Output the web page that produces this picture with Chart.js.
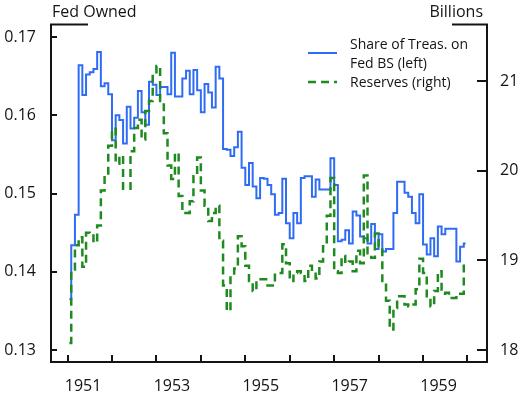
<!DOCTYPE html>
<html lang="en">
<head>
    <meta charset="UTF-8">
    <title>Fed Treasury Share and Reserves, 1951-1959</title>
    <script src="https://cdn.jsdelivr.net/npm/chart.js@4.4.0/dist/chart.umd.min.js"></script>
    <style>
        html, body {
            margin: 0;
            padding: 0;
            background: #ffffff;
        }
        #wrap {
            width: 531px;
            height: 398px;
        }
    </style>
</head>
<body>

<div id="wrap">
    <canvas id="fedChart" width="531" height="398"></canvas>
</div>

<script>
    // Monthly observations, Jan 1951 - Dec 1959
    const startYear = 1951;

    // Share of Treasuries held on the Fed balance sheet (left axis)
    const treasShare = [
        0.1365, 0.1434, 0.1473, 0.1664, 0.1626, 0.1652, 0.1655, 0.1659, 0.1681, 0.1637,
        0.1641, 0.1627, 0.1568, 0.1600, 0.1594, 0.1564, 0.1611, 0.1583, 0.1597, 0.1631,
        0.1604, 0.1588, 0.1643, 0.1639, 0.1626, 0.1636, 0.1636, 0.1627, 0.1680, 0.1624,
        0.1624, 0.1647, 0.1657, 0.1627, 0.1658, 0.1632, 0.1604, 0.1640, 0.1629, 0.1610,
        0.1662, 0.1647, 0.1557, 0.1556, 0.1548, 0.1559, 0.1579, 0.1533, 0.1511, 0.1539,
        0.1509, 0.1494, 0.1520, 0.1519, 0.1511, 0.1499, 0.1473, 0.1475, 0.1519, 0.1462,
        0.1443, 0.1475, 0.1462, 0.1520, 0.1522, 0.1522, 0.1496, 0.1518, 0.1505, 0.1505,
        0.1505, 0.1545, 0.1511, 0.1439, 0.1441, 0.1453, 0.1436, 0.1477, 0.1472, 0.1445,
        0.1443, 0.1436, 0.1461, 0.1429, 0.1448, 0.1426, 0.1429, 0.1429, 0.1475, 0.1515,
        0.1515, 0.1501, 0.1496, 0.1475, 0.1462, 0.1499, 0.1435, 0.1422, 0.1443, 0.1420,
        0.1458, 0.1448, 0.1455, 0.1455, 0.1455, 0.1413, 0.1432, 0.1436
    ];

    // Bank reserves, billions of dollars (right axis)
    const reserves = [
        18.08, 18.90, 19.17, 19.26, 18.93, 19.31, 19.30, 19.20, 19.39, 19.78,
        19.93, 20.28, 20.47, 20.08, 20.17, 19.80, 19.80, 20.22, 20.48, 20.57,
        20.35, 20.67, 20.78, 21.06, 21.17, 20.78, 20.42, 20.06, 19.91, 20.20,
        19.72, 19.53, 19.53, 19.66, 19.94, 20.15, 19.78, 19.61, 19.44, 19.53,
        19.61, 19.22, 18.72, 18.44, 18.83, 18.91, 19.27, 19.16, 18.94, 18.77,
        18.66, 18.79, 18.79, 18.79, 18.72, 18.72, 18.86, 18.86, 19.18, 18.97,
        18.77, 18.86, 18.88, 18.86, 18.77, 18.94, 18.88, 18.80, 18.99, 19.16,
        19.50, 19.92, 18.88, 18.86, 19.05, 18.97, 18.99, 18.88, 19.11, 18.97,
        19.95, 19.08, 19.03, 19.30, 19.16, 18.77, 18.55, 18.23, 18.47, 18.60,
        18.60, 18.51, 18.49, 18.51, 18.68, 19.02, 18.86, 18.58, 18.49, 18.66,
        18.88, 18.63, 18.64, 18.58, 18.58, 18.63, 18.63, 18.97
    ];

    // Axis ticks
    const yearTicks = [1951, 1952, 1953, 1954, 1955, 1956, 1957, 1958, 1959, 1960];
    const yearLabels = [1951, 1953, 1955, 1957, 1959];
    const leftTicks = [0.13, 0.14, 0.15, 0.16, 0.17];
    const rightTicks = [18, 19, 20, 21];

    const labelShift = 0.35;   // year labels sit a little right of the year tick
    const FONT = '"Open Sans", "DejaVu Sans", sans-serif';
    const INK = '#141414';
    const BLUE = '#2f6cf5';
    const GREEN = '#1f8a1f';

    // month midpoints as decimal years
    function toPoints(values) {
        return values.map((v, i) => ({ x: startYear + (i + 0.5) / 12, y: v }));
    }

    // inward tick marks, partial top frame, unit captions and legend
    const decorPlugin = {
        id: 'decor',
        afterDraw(chart) {
            const { ctx, chartArea: a, scales } = chart;
            ctx.save();
            ctx.strokeStyle = INK;
            ctx.lineWidth = 2;
            ctx.beginPath();
            scales.x.ticks.forEach(t => {
                if (!yearTicks.includes(t.value)) return;
                const px = Math.round(scales.x.getPixelForValue(t.value));
                ctx.moveTo(px, a.bottom);
                ctx.lineTo(px, a.bottom - 7);
            });
            scales.yL.ticks.forEach(t => {
                const py = Math.round(scales.yL.getPixelForValue(t.value));
                ctx.moveTo(a.left, py);
                ctx.lineTo(a.left + 6, py);
            });
            scales.yR.ticks.forEach(t => {
                const py = Math.round(scales.yR.getPixelForValue(t.value));
                ctx.moveTo(a.right, py);
                ctx.lineTo(a.right - 10, py);
            });
            ctx.moveTo(a.left - 1, a.top);
            ctx.lineTo(a.left + 37, a.top);
            ctx.moveTo(a.right - 35, a.top);
            ctx.lineTo(a.right + 1, a.top);
            ctx.stroke();

            ctx.fillStyle = INK;
            ctx.font = '16px ' + FONT;
            ctx.textBaseline = 'middle';
            ctx.textAlign = 'left';
            ctx.fillText('Fed Owned', a.left + 1, 12);
            ctx.textAlign = 'right';
            ctx.fillText('Billions', a.right - 4, 12);

            // legend
            const lx = a.right - 179;
            ctx.lineWidth = 2;
            ctx.strokeStyle = BLUE;
            ctx.beginPath();
            ctx.moveTo(lx, 53);
            ctx.lineTo(lx + 29, 53);
            ctx.stroke();
            ctx.strokeStyle = GREEN;
            ctx.lineWidth = 2.5;
            ctx.setLineDash([8, 5]);
            ctx.beginPath();
            ctx.moveTo(lx, 82);
            ctx.lineTo(lx + 29, 82);
            ctx.stroke();
            ctx.setLineDash([]);

            ctx.font = '14px ' + FONT;
            ctx.textAlign = 'left';
            ctx.fillText('Share of Treas. on', lx + 42, 45);
            ctx.fillText('Fed BS (left)', lx + 42, 64);
            ctx.fillText('Reserves (right)', lx + 42, 83);
            ctx.restore();
        }
    };

    const axisBorder = { display: true, color: INK, width: 2 };
    const noGrid = { display: false, drawTicks: false };
    const tickFont = { family: FONT, size: 16 };

    const ctx = document.getElementById('fedChart').getContext('2d');
    new Chart(ctx, {
        type: 'line',
        data: {
            datasets: [
                {
                    label: 'Reserves (right)',
                    data: toPoints(reserves),
                    yAxisID: 'yR',
                    borderColor: GREEN,
                    borderWidth: 2.5,
                    borderDash: [8, 5],
                    stepped: 'middle',
                    pointRadius: 0,
                    fill: false
                },
                {
                    label: 'Share of Treas. on Fed BS (left)',
                    data: toPoints(treasShare),
                    yAxisID: 'yL',
                    borderColor: BLUE,
                    borderWidth: 2,
                    stepped: 'middle',
                    pointRadius: 0,
                    fill: false
                }
            ]
        },
        options: {
            responsive: false,
            animation: false,
            devicePixelRatio: 1,
            layout: { padding: { top: 23, left: 0, right: 0, bottom: 0 } },
            plugins: {
                legend: { display: false },
                tooltip: { enabled: false }
            },
            scales: {
                x: {
                    type: 'linear',
                    min: 1950.628,
                    max: 1960.439,
                    grid: noGrid,
                    border: axisBorder,
                    afterBuildTicks: s => {
                        const all = yearTicks.concat(yearLabels.map(y => y + labelShift));
                        s.ticks = all.sort((p, q) => p - q).map(v => ({ value: v }));
                    },
                    afterFit: s => { s.height = 36; },
                    ticks: {
                        autoSkip: false,
                        maxRotation: 0,
                        padding: 15,
                        color: INK,
                        font: tickFont,
                        callback: v => yearTicks.includes(v) ? '' : String(Math.floor(v))
                    }
                },
                yL: {
                    type: 'linear',
                    position: 'left',
                    min: 0.12847,
                    max: 0.17159,
                    grid: noGrid,
                    border: axisBorder,
                    afterBuildTicks: s => { s.ticks = leftTicks.map(v => ({ value: v })); },
                    afterFit: s => { s.width = 51; },
                    ticks: {
                        padding: 15,
                        color: INK,
                        font: tickFont,
                        callback: v => v.toFixed(2)
                    }
                },
                yR: {
                    type: 'linear',
                    position: 'right',
                    min: 17.867,
                    max: 21.633,
                    grid: noGrid,
                    border: axisBorder,
                    afterBuildTicks: s => { s.ticks = rightTicks.map(v => ({ value: v })); },
                    afterFit: s => { s.width = 44; },
                    ticks: {
                        padding: 13,
                        color: INK,
                        font: tickFont,
                        callback: v => v.toFixed(0)
                    }
                }
            }
        },
        plugins: [decorPlugin]
    });
</script>

</body>
</html>
